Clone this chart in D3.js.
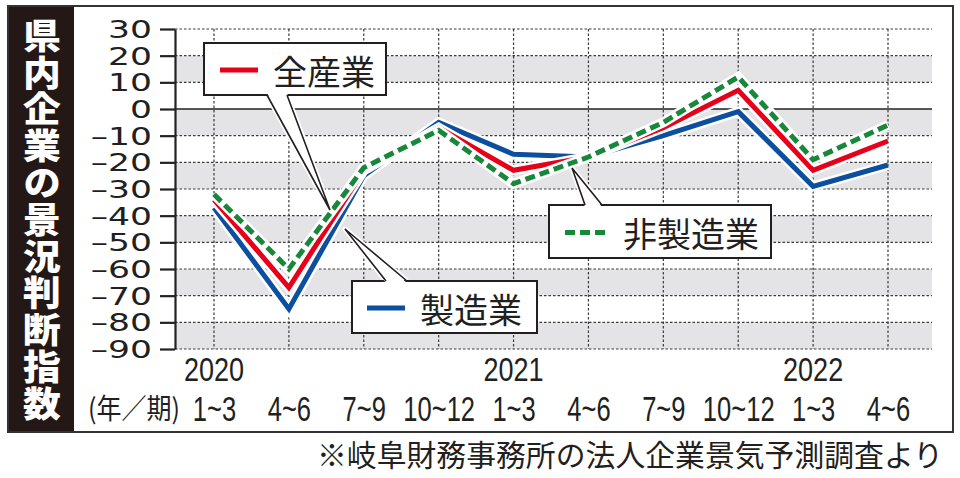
<!DOCTYPE html>
<html>
<head>
<meta charset="utf-8">
<script src="https://cdn.jsdelivr.net/npm/d3@7"></script>
<style>
  body { margin: 0; background: #fff; }
</style>
</head>
<body>
<svg class="dichart" width="960" height="478"></svg>
<script>
// data
const periods = ["2020Q1", "2020Q2", "2020Q3", "2020Q4", "2021Q1", "2021Q2", "2021Q3", "2021Q4", "2022Q1", "2022Q2"];
const quarterLabels = ["1~3", "4~6", "7~9", "10~12", "1~3", "4~6", "7~9", "10~12", "1~3", "4~6"];
const yearLabels = ["2020", "2021", "2022"];
const yearPeriods = ["2020Q1", "2021Q1", "2022Q1"];
const yTicks = [30, 20, 10, 0, -10, -20, -30, -40, -50, -60, -70, -80, -90];

const manufacturing = [-37, -75, -25, -5, -17, -18, -10, -1, -29, -21];
const allIndustry = [-34, -67, -23, -7, -23, -18, -7, 7, -23, -12];
const nonManufacturing = [-32, -60, -22, -8, -28, -18, -5, 12, -19, -6];

const seriesNames = ["製造業", "全産業", "非製造業"];
const titleText = "県内企業の景況判断指数";
const periodNote = "(年／期)";
const sourceNote = "※岐阜財務事務所の法人企業景気予測調査より";

const svg = d3.select('.dichart');

// layout
const plot = { left: 175, right: 932, top: 29, bottom: 349 };
const jp = '"Noto Sans CJK JP", "Noto Sans", sans-serif';

const colors = {
    "製造業": "#0d4f9f",
    "全産業": "#e60019",
    "非製造業": "#17873a",
};

const x = d3.scalePoint().domain(periods).range([214, 888]);
const y = d3.scaleLinear().domain([-90, 30]).range([plot.bottom, plot.top]);

// gray bands: every other 10-point step, starting at 20
const bands = yTicks.filter((d, i) => i % 2 === 1);
svg.append('g')
    .selectAll('rect')
    .data(bands)
    .join('rect')
    .attr('x', plot.left)
    .attr('width', plot.right - plot.left)
    .attr('y', d => y(d))
    .attr('height', d => y(d - 10) - y(d))
    .attr('fill', '#e4e4e6');

// dotted grid
const grid = svg.append('g').attr('stroke', '#3a3a3a').attr('stroke-width', 1.2)
    .attr('stroke-dasharray', '2.5,2');
grid.selectAll('.hgrid')
    .data(yTicks.filter(d => d !== 0))
    .join('line')
    .attr('class', 'hgrid')
    .attr('x1', plot.left).attr('x2', plot.right)
    .attr('y1', d => y(d)).attr('y2', d => y(d));
grid.selectAll('.vgrid')
    .data(periods)
    .join('line')
    .attr('class', 'vgrid')
    .attr('x1', d => x(d)).attr('x2', d => x(d))
    .attr('y1', plot.top).attr('y2', plot.bottom);

// zero line
svg.append('line')
    .attr('x1', plot.left).attr('x2', plot.right)
    .attr('y1', y(0)).attr('y2', y(0))
    .attr('stroke', '#222').attr('stroke-width', 1.6);

// y axis
const yAxis = svg.append('g')
    .attr('transform', `translate(${plot.left},0)`)
    .call(d3.axisLeft(y)
        .tickValues(yTicks)
        .tickSize(15)
        .tickSizeOuter(0)
        .tickFormat(d => d < 0 ? '–' + Math.abs(d) : String(d)));
yAxis.select('.domain').attr('stroke', '#222').attr('stroke-width', 2.2);
yAxis.selectAll('.tick line').attr('stroke', '#222').attr('stroke-width', 2.2);
yAxis.selectAll('.tick text')
    .attr('x', 0)
    .attr('dy', '0.36em')
    .attr('transform', 'translate(-23,0) scale(1.44,1)')
    .attr('fill', '#231f20')
    .style('font-family', '"DejaVu Sans", sans-serif')
    .style('font-size', '24px');

// x axis: quarter labels
const xAxis = svg.append('g')
    .attr('transform', 'translate(0,421)')
    .call(d3.axisBottom(x).tickSize(0).tickFormat((d, i) => quarterLabels[i]));
xAxis.select('.domain').remove();
xAxis.selectAll('.tick text')
    .attr('y', 0)
    .attr('dy', 0)
    .attr('transform', 'scale(0.71,1)')
    .attr('fill', '#231f20')
    .style('font-family', '"Liberation Sans", Arial, sans-serif')
    .style('font-size', '36px');

// year labels
svg.append('g')
    .selectAll('text')
    .data(yearLabels)
    .join('text')
    .attr('transform', (d, i) => `translate(${x(yearPeriods[i])},381) scale(0.82,1)`)
    .attr('text-anchor', 'middle')
    .attr('fill', '#231f20')
    .style('font-family', '"Liberation Sans", Arial, sans-serif')
    .style('font-size', '33px')
    .text(d => d);

svg.append('text')
    .attr('x', 88).attr('y', 419)
    .attr('textLength', 92)
    .attr('lengthAdjust', 'spacingAndGlyphs')
    .attr('fill', '#231f20')
    .style('font-family', jp)
    .style('font-size', '28px')
    .text(periodNote);

// lines, each with a white halo
const seriesValues = [manufacturing, allIndustry, nonManufacturing];
const line = d3.line()
    .x((d, i) => x(periods[i]))
    .y(d => y(d));

const series = svg.append('g')
    .selectAll('g')
    .data(seriesNames.map((name, i) => ({ name, values: seriesValues[i] })))
    .join('g');
series.append('path')
    .attr('d', d => line(d.values))
    .attr('fill', 'none')
    .attr('stroke', '#fff')
    .attr('stroke-width', 10)
    .attr('stroke-linejoin', 'miter');
series.append('path')
    .attr('d', d => line(d.values))
    .attr('fill', 'none')
    .attr('stroke', d => colors[d.name])
    .attr('stroke-width', 5)
    .attr('stroke-linejoin', 'miter')
    .attr('stroke-dasharray', d => d.name === "非製造業" ? '10,5' : null);

// callout boxes
const callouts = [
    { name: "全産業", box: [204, 43, 182, 52], wedge: [[267, 95], [287, 95], [330, 210]], sample: [220, 258] },
    { name: "製造業", box: [352, 281, 185, 52], wedge: [[386, 281], [407, 281], [345, 229]], sample: [367, 405] },
    { name: "非製造業", box: [549, 205, 222, 53], wedge: [[585, 205], [602, 205], [572, 168]], sample: [565, 608] },
];

const callout = svg.append('g')
    .selectAll('g')
    .data(callouts)
    .join('g');
// halo for the pointer
callout.append('path')
    .attr('d', d => `M${d.wedge[0]}L${d.wedge[2]}L${d.wedge[1]}`)
    .attr('fill', 'none')
    .attr('stroke', '#fff')
    .attr('stroke-width', 5)
    .attr('stroke-linejoin', 'round');
callout.append('rect')
    .attr('x', d => d.box[0]).attr('y', d => d.box[1])
    .attr('width', d => d.box[2]).attr('height', d => d.box[3])
    .attr('fill', '#fff')
    .attr('stroke', '#231f20')
    .attr('stroke-width', 2);
callout.append('path')
    .attr('d', d => {
        const [a, b, c] = d.wedge;
        const dir = c[1] > a[1] ? -2 : 2;
        return `M${a[0]},${a[1] + dir}L${c}L${b[0]},${b[1] + dir}Z`;
    })
    .attr('fill', '#fff');
callout.append('path')
    .attr('d', d => `M${d.wedge[0]}L${d.wedge[2]}L${d.wedge[1]}`)
    .attr('fill', 'none')
    .attr('stroke', '#231f20')
    .attr('stroke-width', 1.6);
callout.append('line')
    .attr('x1', d => d.sample[0]).attr('x2', d => d.sample[1])
    .attr('y1', d => d.box[1] + d.box[3] / 2 + 1)
    .attr('y2', d => d.box[1] + d.box[3] / 2 + 1)
    .attr('stroke', d => colors[d.name])
    .attr('stroke-width', 5)
    .attr('stroke-dasharray', d => d.name === "非製造業" ? '10,5' : null);
callout.append('text')
    .attr('x', d => d.sample[1] + 15)
    .attr('y', d => d.box[1] + d.box[3] / 2 + 1)
    .attr('dominant-baseline', 'central')
    .attr('fill', '#231f20')
    .style('font-family', jp)
    .style('font-size', '34px')
    .text(d => d.name);

// outer frame and title panel
svg.append('rect')
    .attr('x', 8).attr('y', 6)
    .attr('width', 66).attr('height', 426)
    .attr('fill', '#231815');
svg.append('rect')
    .attr('x', 8).attr('y', 6)
    .attr('width', 945).attr('height', 426)
    .attr('fill', 'none')
    .attr('stroke', '#333')
    .attr('stroke-width', 2);

// vertical title as one text run
svg.append('text')
    .attr('transform', 'translate(42,18) scale(1.08,1)')
    .attr('x', 0).attr('y', 0)
    .style('writing-mode', 'vertical-rl')
    .style('text-orientation', 'upright')
    .style('letter-spacing', '1.8px')
    .attr('fill', '#fff')
    .style('font-family', jp)
    .style('font-weight', 900)
    .style('font-size', '35px')
    .text(titleText);

svg.append('text')
    .attr('x', 943).attr('y', 466)
    .attr('text-anchor', 'end')
    .attr('textLength', 626)
    .attr('lengthAdjust', 'spacingAndGlyphs')
    .attr('fill', '#231f20')
    .style('font-family', jp)
    .style('font-size', '30px')
    .text(sourceNote);
</script>
</body>
</html>
